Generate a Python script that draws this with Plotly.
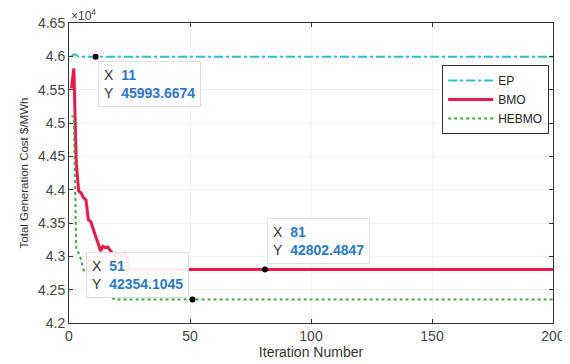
import plotly.graph_objects as go

# ---- data ----
ep_iter = [1, 2, 3, 4, 200]
ep_cost = [46000, 46030, 46020, 45994, 45993.6674]

bmo_iter = [1, 2, 3, 4, 5, 6, 7, 8, 9, 10, 11, 12, 13, 14, 15, 16, 17, 18, 19, 20, 21, 22, 23, 24, 25, 200]
bmo_cost = [45520, 45820, 44400, 43980, 43950, 43880, 43850, 43550, 43520, 43400, 43300, 43200, 43080,
            43150, 43130, 43140, 43080, 43040, 43000, 43020, 43030, 43000, 43040, 42990, 42802.4847, 42802.4847]

hebmo_iter = [1, 2, 3, 4, 5, 6, 8, 10, 13, 16, 19, 200]
hebmo_cost = [45100, 45100, 43100, 43050, 42950, 42800, 42700, 42600, 42500, 42400, 42354.1045, 42354.1045]

tip_x = [11, 51, 81]
tip_y = [45993.6674, 42354.1045, 42802.4847]
tip_text = ["11", "51", "81"]
tip_val = ["45993.6674", "42354.1045", "42802.4847"]

y_ticks = [42000, 42500, 43000, 43500, 44000, 44500, 45000, 45500, 46000, 46500]
y_tick_labels = ["4.2", "4.25", "4.3", "4.35", "4.4", "4.45", "4.5", "4.55", "4.6", "4.65"]
x_ticks = [0, 50, 100, 150, 200]

FONT = "Liberation Sans, Arial"

fig = go.Figure()
fig.add_trace(go.Scatter(x=ep_iter, y=ep_cost, mode="lines", name="EP",
                         line=dict(color="#2bbfd3", width=2, dash="dashdot")))
fig.add_trace(go.Scatter(x=bmo_iter, y=bmo_cost, mode="lines", name="BMO",
                         line=dict(color="#e8194c", width=3)))
fig.add_trace(go.Scatter(x=hebmo_iter, y=hebmo_cost, mode="lines", name="HEBMO",
                         line=dict(color="#3faa3f", width=2, dash="dot")))
fig.add_trace(go.Scatter(x=tip_x, y=tip_y, mode="markers", showlegend=False,
                         marker=dict(color="black", size=6)))

# datatip boxes
anchors = [
    dict(xanchor="left", yanchor="top", xshift=2, yshift=-4),
    dict(xanchor="right", yanchor="bottom", xshift=-3, yshift=1),
    dict(xanchor="left", yanchor="bottom", xshift=2, yshift=6),
]
for xv, yv, xt, yt, a in zip(tip_x, tip_y, tip_text, tip_val, anchors):
    txt = (f"X&nbsp;&nbsp;<span style='color:#2a78c8'><b>{xt}</b></span><br>"
           f"Y&nbsp;&nbsp;<span style='color:#2a78c8'><b>{yt}</b></span>")
    fig.add_annotation(x=xv, y=yv, text=txt, showarrow=False, align="left",
                       font=dict(family=FONT, size=14, color="#333333"),
                       bgcolor="rgba(255,255,255,0.92)", bordercolor="#dddddd", borderwidth=1,
                       borderpad=5, **a)

fig.add_annotation(x=0, y=1.0, xref="paper", yref="paper", text="×10<sup>4</sup>",
                   showarrow=False, xanchor="left", yanchor="bottom", yshift=-2,
                   font=dict(family=FONT, size=12, color="#444444"))

axis_common = dict(showline=True, linecolor="#333333", linewidth=1, mirror="ticks",
                   ticks="inside", ticklen=4, tickcolor="#333333",
                   showgrid=True, gridcolor="#f2f2f2", zeroline=False, automargin=False,
                   tickfont=dict(family=FONT, size=14, color="#444444"))

fig.update_xaxes(range=[0, 200], tickvals=x_ticks,
                 title=dict(text="Iteration Number", standoff=2,
                            font=dict(family=FONT, size=14, color="#333333")),
                 **axis_common)
fig.update_yaxes(range=[42000, 46500], tickvals=y_ticks, ticktext=y_tick_labels,
                 title=dict(text="Total Generation Cost $/MWh", standoff=6,
                            font=dict(family=FONT, size=11.5, color="#333333")),
                 **axis_common)

# page body adds an 8px offset, margins compensate for it
fig.update_layout(
    width=570, height=364,
    margin=dict(l=61, r=25, t=15, b=49),
    paper_bgcolor="white", plot_bgcolor="white",
    showlegend=True,
    legend=dict(x=0.771, y=0.86, xanchor="left", yanchor="top",
                bgcolor="white", bordercolor="#333333", borderwidth=1,
                font=dict(family=FONT, size=12, color="#222222"),
                tracegroupgap=0, itemwidth=45),
)

fig.write_html("out.html")
